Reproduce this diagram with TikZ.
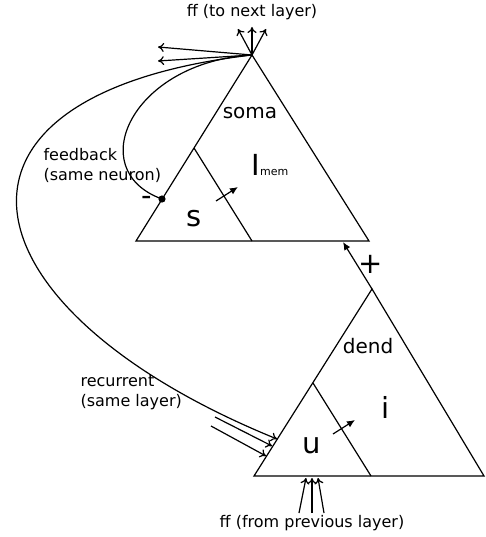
\documentclass[tikz,border=0pt]{standalone}
\usepackage{fontspec}
\setmainfont{DejaVu Sans}
\usetikzlibrary{arrows.meta,positioning,calc}

\tikzset{
  lab/.style={inner sep=0pt,font=\fontsize{16}{20}\selectfont},
  part/.style={inner sep=0pt,font=\fontsize{20}{24}\selectfont},
  var/.style={inner sep=0pt,font=\fontsize{29}{30}\selectfont},
  syn/.style={-{To[length=6pt,width=9pt]}},
  flow/.style={-{Latex[length=8pt,width=7pt]}}
}

\begin{document}
\begin{tikzpicture}[x=1pt,y=-1pt,line width=1.2pt]
\useasboundingbox (0,0) rectangle (485,537);
% soma
\coordinate (sa) at (252,55);
\coordinate (sl) at (136,241);
\coordinate (sr) at (369,241);
\coordinate (si) at (194,148);
\coordinate (sm) at (252,241);
\draw (sl)--(sa)--(sr)--cycle;
\draw (si)--(sm);
% dend
\coordinate (da) at (372,289);
\coordinate (dl) at (254,476);
\coordinate (dr) at (484,476);
\coordinate (di) at (313,383);
\coordinate (dm) at (371,476);
\draw (dl)--(da)--(dr)--cycle;
\draw (di)--(dm);
% dend -> soma
\coordinate (sb) at (343,242);
\draw[flow] (da)--(sb);
\node[var] (plus) at (371,264){+};
% outputs
\node[lab] (ffout) at (252,12){ff (to next layer)};
\foreach \n/\p in {o1/{238,29},o2/{252,27},o3/{266,29},o4/{158,47},o5/{158,61}}{
  \coordinate (\n) at (\p);
  \draw[syn] (sa)--(\n);
}
% feedback
\coordinate (fb) at (162,199);
\draw (sa) .. controls (132,62) and (82,170) .. (fb);
\fill (fb) circle (3.6);
\node[var,text height=3pt,text depth=0pt,anchor=base] (minus) at (147,205){-};
\node[lab,align=left,anchor=west] (fblab) at (43,165){feedback\\(same neuron)};
% recurrent
\coordinate (r1) at (277,439);
\coordinate (r2) at (272,446);
\coordinate (r3) at (266,456);
\coordinate (r2s) at (215,417);
\coordinate (r3s) at (211,426);
\draw[syn] (sa) .. controls (-90,95) and (-40,310) .. (r1);
\draw[syn] (r2s)--(r2);
\draw[syn] (r3s)--(r3);
\node[lab,align=left,anchor=west] (reclab) at (80,393){recurrent\\(same layer)};
% inputs
\node[lab] (ffin) at (312,523){ff (from previous layer)};
\foreach \n/\s/\e in {b1/{299,513}/{306,478},b2/{312,513}/{312,478},b3/{324,513}/{318,478}}{
  \coordinate (\n) at (\e);
  \draw[syn] (\s)--(\n);
}
% states
\node[part] (soma) at (250,113){soma};
\node[part] (dend) at (368,346){dend};
\node[var] (s) at (194,219){s};
\node[var] (u) at (312,446){u};
\node[var] (i) at (386,407){i};
\node[inner sep=0pt,anchor=base west] (imem) at (251,176){\fontsize{29}{30}\selectfont I\fontsize{11}{12}\selectfont mem};
\coordinate (sx) at (216,201);
\coordinate (sy) at (238,187);
\draw[flow] (sx)--(sy);
\coordinate (dx) at (333,434);
\coordinate (dy) at (355,420);
\draw[flow] (dx)--(dy);
\end{tikzpicture}
\end{document}
